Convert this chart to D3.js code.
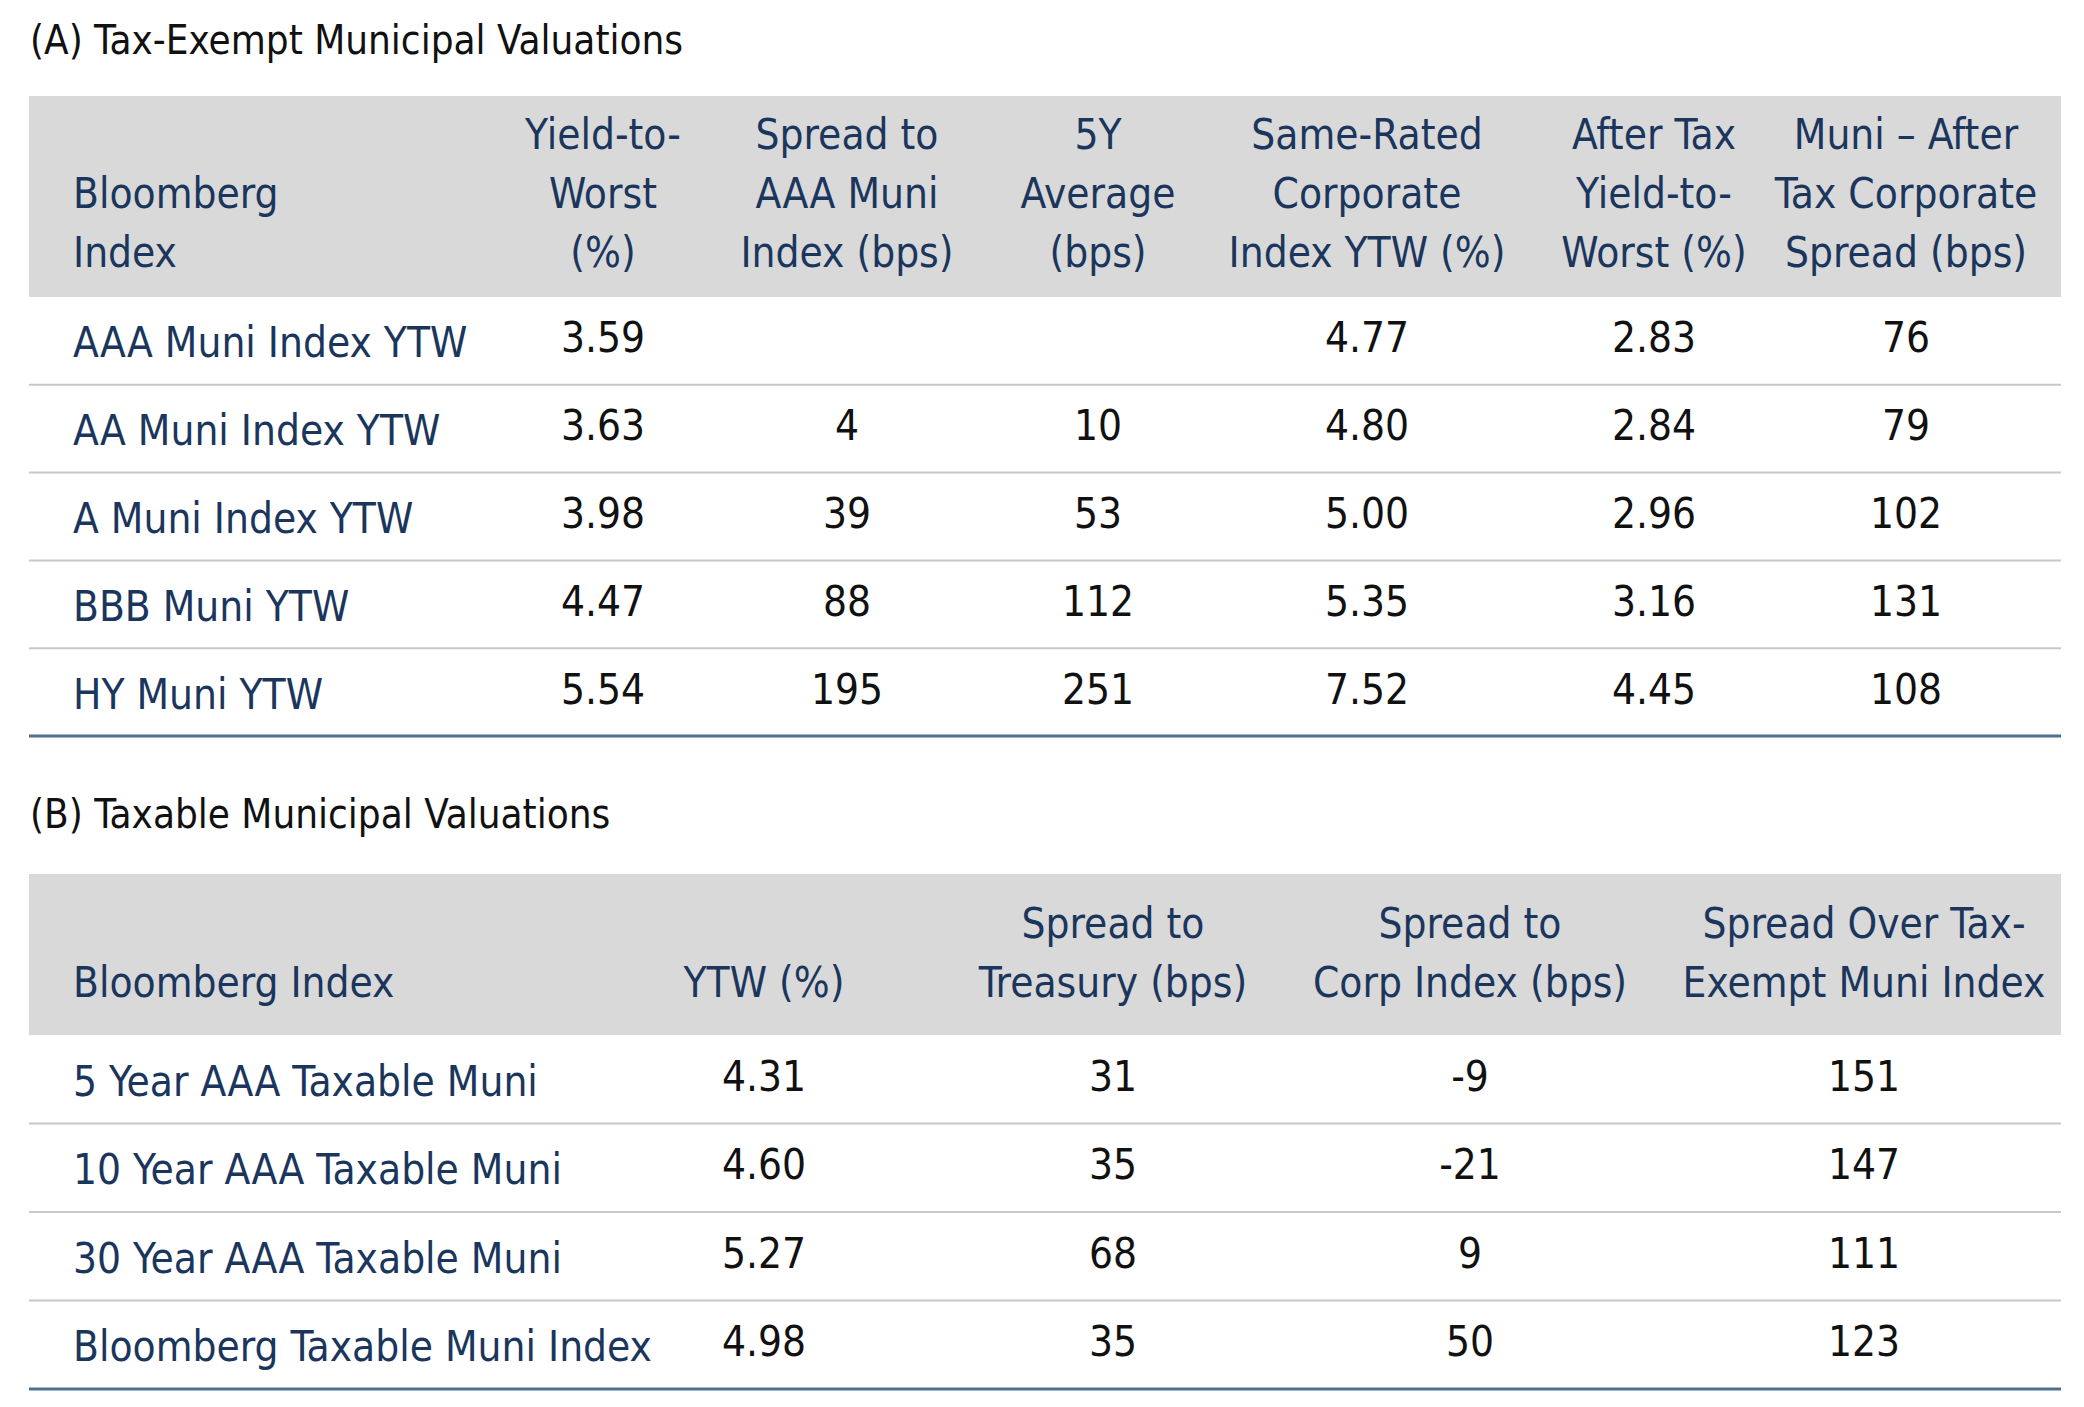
<!DOCTYPE html><html><head><meta charset="utf-8"><script src="https://cdn.jsdelivr.net/npm/d3@7"></script>
<style>body{margin:0;background:#fff}</style></head><body><svg id="c" width="2084" height="1407"></svg>
<script>
const titleA="(A) Tax-Exempt Municipal Valuations";
const headersA=[["Bloomberg","Index"],["Yield-to-","Worst","(%)"],["Spread to","AAA Muni","Index (bps)"],["5Y","Average","(bps)"],["Same-Rated","Corporate","Index YTW (%)"],["After Tax","Yield-to-","Worst (%)"],["Muni – After","Tax Corporate","Spread (bps)"]];
const rowsA=["AAA Muni Index YTW","AA Muni Index YTW","A Muni Index YTW","BBB Muni YTW","HY Muni YTW"];
const ytwA=["3.59","3.63","3.98","4.47","5.54"];
const spreadAAA=["","4","39","88","195"];
const avg5Y=["","10","53","112","251"];
const corpYTW=["4.77","4.80","5.00","5.35","7.52"];
const afterTax=["2.83","2.84","2.96","3.16","4.45"];
const muniSpread=["76","79","102","131","108"];
const titleB="(B) Taxable Municipal Valuations";
const headersB=[["Bloomberg Index"],["YTW (%)"],["Spread to","Treasury (bps)"],["Spread to","Corp Index (bps)"],["Spread Over Tax-","Exempt Muni Index"]];
const rowsB=["5 Year AAA Taxable Muni","10 Year AAA Taxable Muni","30 Year AAA Taxable Muni","Bloomberg Taxable Muni Index"];
const ytwB=["4.31","4.60","5.27","4.98"];
const sprTsy=["31","35","68","35"];
const sprCorp=["-9","-21","9","50"];
const sprMuni=["151","147","111","123"];

const svg=d3.select("#c"), F="'Liberation Sans Narrow','DejaVu Sans Condensed',sans-serif";
const NAVY="#1b365d";
function table(o){
  svg.append("text").attr("x",30).attr("y",o.titleY).attr("dominant-baseline","middle").attr("font-family",F).attr("font-size",40).attr("fill","#111").text(o.title);
  svg.append("rect").attr("x",29).attr("y",o.hTop).attr("width",2032).attr("height",o.hBot-o.hTop).attr("fill","#d9d9d9");
  const cols=o.headers.length;
  const x=i=>i===0?73:o.xs[i-1];
  o.headers.forEach((h,i)=>{
    const n=h.length;
    h.forEach((t,k)=>svg.append("text").attr("x",x(i)).attr("y",o.hMid+(k-(n-1)/2)*59+(i===0&&n<o.maxL?(o.maxL-n)*29.5:0)+(n<o.maxL&&i>0?(o.maxL-n)*29.5:0))
      .attr("text-anchor",i===0?"start":"middle").attr("dominant-baseline","middle").attr("font-family",F).attr("font-size",42).attr("fill",NAVY).text(t));
  });
  const y=d3.scaleBand().domain(d3.range(o.rows.length)).range([o.hBot,o.bottom]);
  o.rows.forEach((r,j)=>{
    const cy=y(j)+y.bandwidth()/2;
    svg.append("text").attr("x",73).attr("y",cy+5).attr("dominant-baseline","middle").attr("font-family",F).attr("font-size",42).attr("fill",NAVY).text(r);
    o.data.forEach((arr,i)=>svg.append("text").attr("x",o.xs[i]).attr("y",cy).attr("text-anchor","middle").attr("dominant-baseline","middle").attr("font-family",F).attr("font-size",42).attr("fill","#111").text(arr[j]));
    if(j<o.rows.length-1) svg.append("line").attr("x1",29).attr("x2",2061).attr("y1",y(j+1)).attr("y2",y(j+1)).attr("stroke","#c8c8c8").attr("stroke-width",2);
  });
  svg.append("line").attr("x1",29).attr("x2",2061).attr("y1",o.bottom).attr("y2",o.bottom).attr("stroke","#4f7190").attr("stroke-width",3);
}
table({title:titleA,titleY:43,hTop:96,hBot:297,hMid:196,maxL:3,headers:headersA,rows:rowsA,bottom:736,
  xs:[603,847,1098,1367,1654,1906],data:[ytwA,spreadAAA,avg5Y,corpYTW,afterTax,muniSpread]});
table({title:titleB,titleY:817,hTop:874,hBot:1035,hMid:956,maxL:2,headers:headersB,rows:rowsB,bottom:1389,
  xs:[764,1113,1470,1864],data:[ytwB,sprTsy,sprCorp,sprMuni]});
</script></body></html>
